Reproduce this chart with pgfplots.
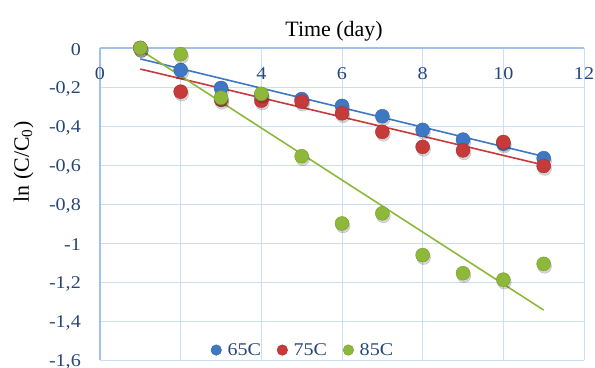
\documentclass[border=0pt]{standalone}
\usepackage{fontspec}
\setmainfont{Liberation Serif}
\newfontfamily\tickfont[FakeStretch=1.12]{Liberation Serif}
\usepackage{pgfplots}
\pgfplotsset{compat=1.18}
\definecolor{cblue}{RGB}{62,120,196}
\definecolor{cred}{RGB}{198,58,58}
\definecolor{cgreen}{RGB}{142,184,58}
\definecolor{gridc}{RGB}{204,222,244}
\definecolor{axisc}{RGB}{160,194,234}
\definecolor{tickc}{RGB}{38,70,120}
\pgfplotstableread{
x y
1 0
2 -0.113
3 -0.205
4 -0.245
5 -0.262
6 -0.297
7 -0.35
8 -0.42
9 -0.47
10 -0.49
11 -0.565
}\tblA
\pgfplotstableread{
x y
1 0
2 -0.224
3 -0.265
4 -0.27
5 -0.275
6 -0.335
7 -0.43
8 -0.507
9 -0.525
10 -0.482
11 -0.605
}\tblB
\pgfplotstableread{
x y
1 0
2 -0.032
3 -0.255
4 -0.235
5 -0.555
6 -0.9
7 -0.848
8 -1.062
9 -1.155
10 -1.188
11 -1.107
}\tblC
\begin{document}
\begin{tikzpicture}
\begin{axis}[
  scale only axis, width=484bp, height=312bp,
  xmin=0, xmax=12, ymin=-1.6, ymax=0,
  axis x line*=top, axis y line*=left,
  xtick={0,2,4,6,8,10,12}, xticklabels={0,2,4,6,8,10,12},
  ytick={-1.6,-1.4,-1.2,-1,-0.8,-0.6,-0.4,-0.2,0},
  yticklabels={{-1,6},{-1,4},{-1,2},{-1},{-0,8},{-0,6},{-0,4},{-0,2},{0}},
  grid=major, major grid style={gridc, line width=0.9bp},
  axis line style={axisc, line width=1.1bp},
  major tick length=0pt,
  tick label style={font=\tickfont\fontsize{18}{21}\selectfont, text=tickc},
  xticklabel style={anchor=base, yshift=-32bp},
  yticklabel style={anchor=east, inner xsep=0pt, xshift=-19bp, yshift=-2bp},
  every axis title/.style={at={(0.4835,1)}, anchor=base, yshift=11bp, font=\fontsize{22}{25}\selectfont},
  title={Time (day)},
  every axis y label/.style={at={(axis description cs:-0.1467,0.635)}, rotate=90, anchor=base, font=\fontsize{22}{25}\selectfont},
  ylabel={ln (C/C\textsubscript{0})},
  legend columns=3,
  legend style={at={(axis cs:5.01,-1.549)}, anchor=center, draw=none, fill=none,
    font=\tickfont\fontsize{18}{21}\selectfont, text=tickc,
    /tikz/every odd column/.append style={column sep=6bp},
    /tikz/every even column/.append style={column sep=16bp},
    nodes={inner xsep=0pt}},
  legend image code/.code={\draw[#1, mark size=5.3bp] plot coordinates {(0bp,0bp)};},
]
\addplot[forget plot, only marks, mark=*, mark size=7bp, black, opacity=0.16, mark options={draw=none, xshift=1bp, yshift=-2.5bp}] table {\tblA};
\addplot[only marks, mark=*, mark size=7bp, color=cblue, mark options={fill=cblue, draw=cblue!85!black, line width=0.4bp}] table {\tblA};
\addlegendentry{65C}
\addplot[forget plot, only marks, mark=*, mark size=7bp, black, opacity=0.16, mark options={draw=none, xshift=1bp, yshift=-2.5bp}] table {\tblB};
\addplot[only marks, mark=*, mark size=7bp, color=cred, mark options={fill=cred, draw=cred!85!black, line width=0.4bp}] table {\tblB};
\addlegendentry{75C}
\addplot[forget plot, only marks, mark=*, mark size=7bp, black, opacity=0.16, mark options={draw=none, xshift=1bp, yshift=-2.5bp}] table {\tblC};
\addplot[only marks, mark=*, mark size=7bp, color=cgreen, mark options={fill=cgreen, draw=cgreen!85!black, line width=0.4bp}] table {\tblC};
\addlegendentry{85C}
\addplot[forget plot, cblue, line width=1.6bp] coordinates {(1,-0.056) (11,-0.556)};
\addplot[forget plot, cred, line width=1.6bp] coordinates {(1,-0.108) (11,-0.600)};
\addplot[forget plot, cgreen, line width=1.6bp] coordinates {(1,-0.01) (11,-1.344)};
\end{axis}
\pgfresetboundingbox
\path[use as bounding box] ([xshift=-100bp,yshift=-8bp]current axis.south west) rectangle ([xshift=11bp,yshift=48bp]current axis.north east);
\end{tikzpicture}
\end{document}
